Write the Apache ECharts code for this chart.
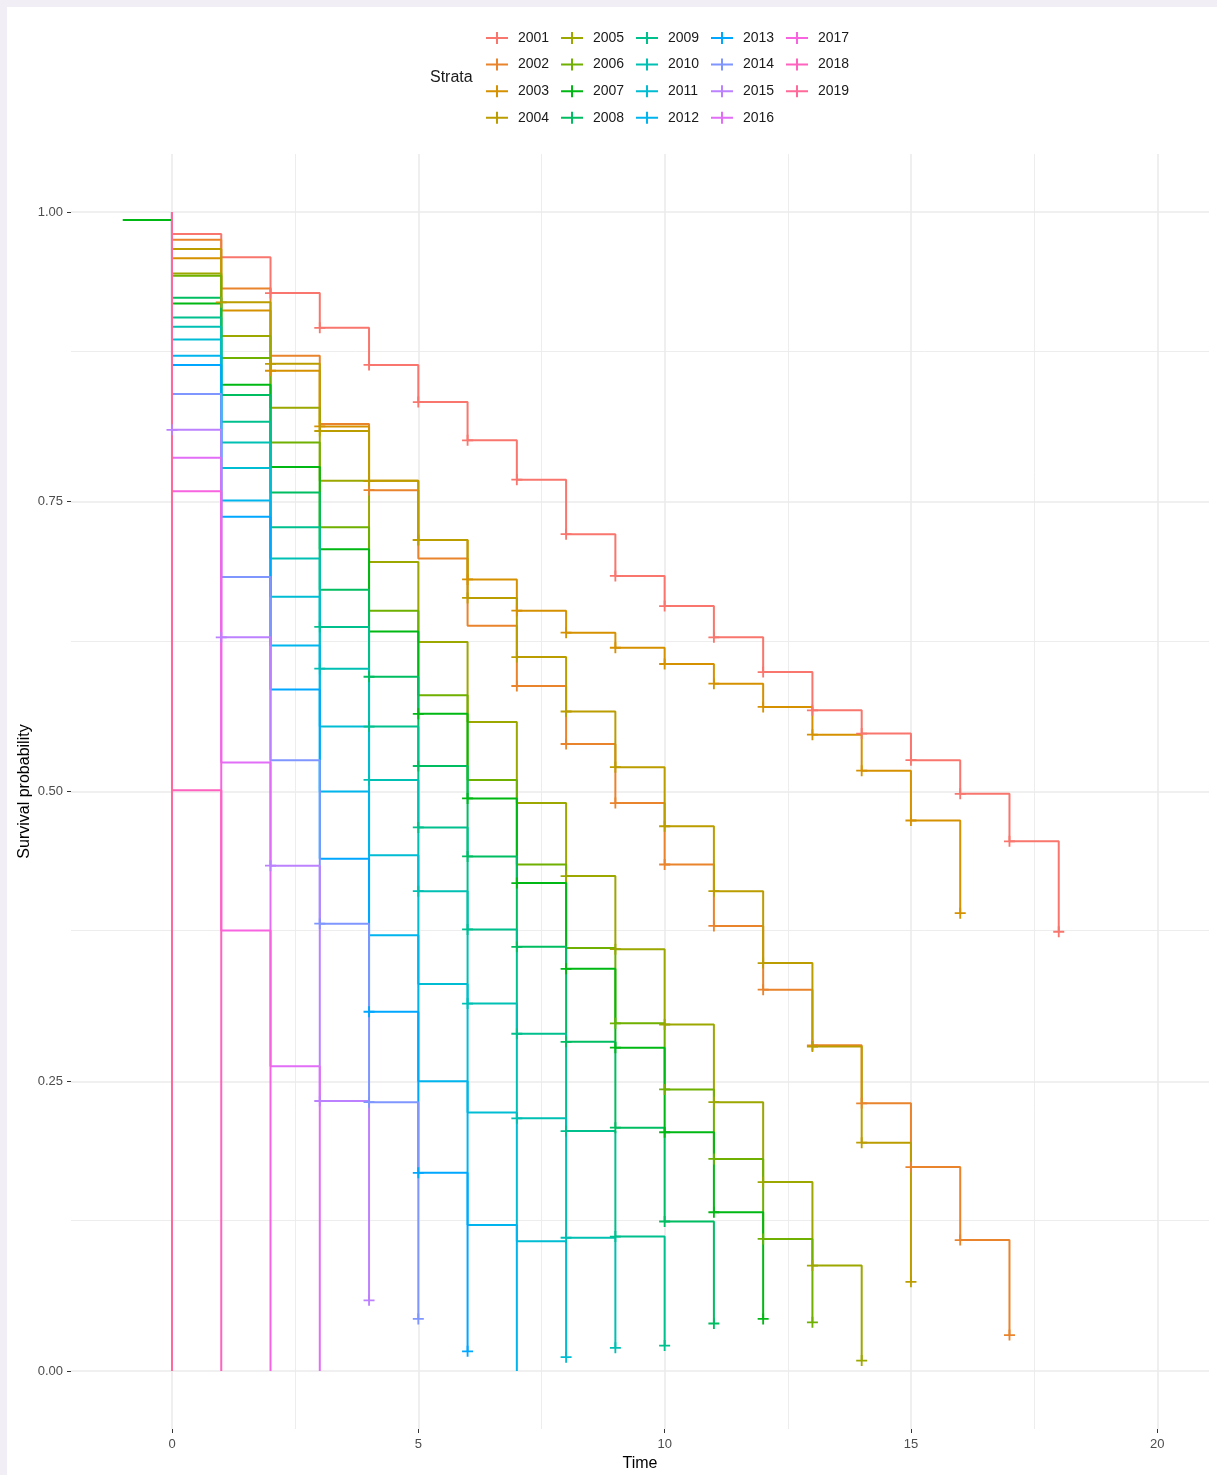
<!DOCTYPE html>
<html>
<head>
<meta charset="utf-8">
<script src="https://cdn.jsdelivr.net/npm/echarts@6/dist/echarts.min.js"></script>
<style>
html,body{margin:0;padding:0;background:#f1eef6;width:1217px;height:1475px;overflow:hidden;}
#panelbg{position:absolute;left:7px;top:7px;width:1210px;height:1468px;background:#ffffff;}
#chart{position:absolute;left:0;top:0;width:1217px;height:1475px;}
</style>
</head>
<body>
<div id="panelbg"></div>
<div id="chart"></div>
<script>
// ---------------- DATA ----------------
const strata = ['2001','2002','2003','2004','2005','2006','2007','2008','2009','2010',
                '2011','2012','2013','2014','2015','2016','2017','2018','2019'];
// time points (years of follow-up); survival arrays are aligned to these
const timePoints = [-1,0,1,2,3,4,5,6,7,8,9,10,11,12,13,14,15,16,17,18];

const s2001 = [null,0.981,0.961,0.930,0.900,0.868,0.836,0.803,0.769,0.722,0.686,0.660,0.633,0.603,0.570,0.550,0.527,0.498,0.457,0.379];
const s2002 = [null,0.976,0.934,0.876,0.817,0.760,0.701,0.643,0.591,0.541,0.490,0.437,0.384,0.329,0.281,0.231,0.176,0.113,0.031];
const s2003 = [null,0.960,0.915,0.863,0.815,0.768,0.717,0.683,0.656,0.637,0.624,0.610,0.593,0.573,0.549,0.518,0.475,0.395];
const s2004 = [null,0.968,0.922,0.869,0.811,0.768,0.717,0.667,0.616,0.569,0.521,0.470,0.414,0.352,0.280,0.197,0.077];
const s2005 = [null,0.947,0.893,0.831,0.768,0.698,0.629,0.560,0.490,0.427,0.364,0.299,0.232,0.163,0.091,0.009];
const s2006 = [null,0.945,0.874,0.801,0.728,0.656,0.583,0.510,0.437,0.365,0.300,0.243,0.183,0.114,0.042];
const s2007 = [0.993,0.921,0.851,0.780,0.709,0.638,0.567,0.494,0.421,0.347,0.279,0.206,0.137,0.045];
const s2008 = [null,0.926,0.842,0.758,0.674,0.599,0.522,0.444,0.366,0.284,0.210,0.129,0.041];
const s2009 = [null,0.909,0.819,0.728,0.642,0.556,0.469,0.381,0.291,0.207,0.116,0.022];
const s2010 = [null,0.901,0.801,0.701,0.606,0.510,0.414,0.317,0.218,0.115,0.020];
const s2011 = [null,0.890,0.779,0.668,0.556,0.445,0.334,0.223,0.112,0.012];
const s2012 = [null,0.876,0.751,0.626,0.500,0.376,0.250,0.126,0.000];
const s2013 = [null,0.868,0.737,0.588,0.442,0.310,0.171,0.017];
const s2014 = [null,0.843,0.685,0.527,0.386,0.232,0.045];
const s2015 = [null,0.812,0.633,0.436,0.233,0.061];
const s2016 = [null,0.788,0.525,0.263,0.000];
const s2017 = [null,0.759,0.380,0.000];
const s2018 = [null,0.501,0.000];
const s2019 = [null,0.000];

// censoring marks (+) : times at which a mark is drawn
const c2001 = [2,3,4,5,6,7,8,9,10,11,12,13,14,15,16,17,18];
const c2002 = [4,7,8,9,10,11,12,13,14,15,16,17];
const c2003 = [2,3,4,5,6,7,8,9,10,11,12,13,14,15,16];
const c2004 = [1,2,3,4,5,6,7,8,9,10,11,12,13,14,15];
const c2005 = [8,9,10,11,12,13,14];
const c2006 = [9,10,11,12,13];
const c2007 = [5,6,7,8,9,10,11,12];
const c2008 = [4,5,6,7,8,9,10,11];
const c2009 = [3,4,5,6,7,8,9,10];
const c2010 = [3,4,5,6,7,8,9];
const c2011 = [8];
const c2012 = [];
const c2013 = [4,5,6];
const c2014 = [3,4,5];
const c2015 = [0,1,2,3,4];
const c2016 = [];
const c2017 = [];
const c2018 = [];
const c2019 = [];

const xTicks = [0,5,10,15,20];
const xMinorGrid = [2.5,7.5,12.5,17.5];
const yTicks = [0,0.25,0.5,0.75,1];
const yMinorGrid = [0.125,0.375,0.625,0.875];

const survList = [s2001,s2002,s2003,s2004,s2005,s2006,s2007,s2008,s2009,s2010,s2011,s2012,s2013,s2014,s2015,s2016,s2017,s2018,s2019];
const censList = [c2001,c2002,c2003,c2004,c2005,c2006,c2007,c2008,c2009,c2010,c2011,c2012,c2013,c2014,c2015,c2016,c2017,c2018,c2019];

// ---------------- COLOURS (ggplot2 hue palette) ----------------
function hcl(h, c, l) {
  const hr = h * Math.PI / 180;
  const U = c * Math.cos(hr), V = c * Math.sin(hr);
  const Y = l > 7.999592 ? 100 * Math.pow((l + 16) / 116, 3) : 100 * l / 903.3;
  const XN = 95.047, YN = 100, ZN = 108.883;
  const t = XN + YN + ZN, x = XN / t, y = YN / t;
  const uN = 2 * x / (6 * y - x + 1.5), vN = 4.5 * y / (6 * y - x + 1.5);
  const u = U / (13 * l) + uN, v = V / (13 * l) + vN;
  const X = 9 * Y * u / (4 * v);
  const Z = -X / 3 - 5 * Y + 3 * Y / v;
  const lin = [
    (3.240479 * X - 1.537150 * Y - 0.498535 * Z) / YN,
    (-0.969256 * X + 1.875992 * Y + 0.041556 * Z) / YN,
    (0.055648 * X - 0.204043 * Y + 1.057311 * Z) / YN
  ];
  return '#' + lin.map(q => {
    let g = q <= 0.0031308 ? 12.92 * q : 1.055 * Math.pow(q, 1 / 2.4) - 0.055;
    g = Math.max(0, Math.min(1, g));
    return Math.round(g * 255).toString(16).padStart(2, '0');
  }).join('');
}
const nS = strata.length;
const colors = strata.map((_, i) => {
  const h = 15 + i * ((375 - 360 / nS) - 15) / (nS - 1);
  return hcl(h % 360, 100, 65);
});

// ---------------- CHART ----------------
const plusPath = 'path://M5,0L7,0L7,12L5,12ZM0,5L12,5L12,7L0,7Z';
const legendPath = 'path://M0,5L22,5L22,7L0,7ZM10,0L12,0L12,12L10,12Z';
const font = 'Liberation Sans, Arial, sans-serif';

const gridColor = '#ebebeb';
const markData = [];
xTicks.forEach(v => markData.push({xAxis: v, lineStyle: {color: gridColor, width: 1.6, type: 'solid'}}));
xMinorGrid.forEach(v => markData.push({xAxis: v, lineStyle: {color: gridColor, width: 0.9, type: 'solid'}}));
yTicks.forEach(v => markData.push({yAxis: v, lineStyle: {color: gridColor, width: 1.6, type: 'solid'}}));
yMinorGrid.forEach(v => markData.push({yAxis: v, lineStyle: {color: gridColor, width: 0.9, type: 'solid'}}));

const series = [{
  type: 'line', name: '__grid', data: [], silent: true, z: 0, animation: false,
  markLine: {silent: true, z: 0, symbol: ['none', 'none'], label: {show: false}, animation: false, data: markData}
}];

strata.forEach((name, i) => {
  const vals = survList[i];
  const cens = censList[i];
  const data = [];
  let first = true;
  vals.forEach((v, k) => {
    if (v === null || v === undefined) return;
    const t = timePoints[k];
    if (first && t >= 0) data.push({value: [t, 1], symbol: 'none'});
    first = false;
    data.push({value: [t, v], symbol: cens.indexOf(t) >= 0 ? plusPath : 'none'});
  });
  series.push({
    type: 'line', name: name, step: 'end', data: data,
    color: colors[i],
    itemStyle: {color: colors[i]},
    lineStyle: {width: 2, color: colors[i]},
    symbol: plusPath, symbolSize: 11, showSymbol: true, showAllSymbol: true,
    animation: false, z: 3, emphasis: {disabled: true}
  });
});

const legendCols = [
  ['2001','2002','2003','2004'],
  ['2005','2006','2007','2008'],
  ['2009','2010','2011','2012'],
  ['2013','2014','2015','2016'],
  ['2017','2018','2019']
];
const legendLefts = [486, 561, 636, 711, 786];

const option = {
  backgroundColor: 'transparent',
  animation: false,
  textStyle: {fontFamily: font},
  grid: {left: 71, right: 8, top: 154, bottom: 46, containLabel: false, outerBoundsMode: 'none'},
  legend: legendCols.map((d, i) => ({
    data: d, orient: 'vertical', left: legendLefts[i], top: 31,
    itemWidth: 22, itemHeight: 12, itemGap: 12.6, padding: 0,
    icon: legendPath, selectedMode: false,
    textStyle: {fontSize: 14, color: '#1a1a1a', fontFamily: font, padding: [0, 0, 0, 5]}
  })),
  graphic: [{
    type: 'text', left: 430, top: 70,
    style: {text: 'Strata', fontSize: 16, fill: '#1a1a1a', fontFamily: font}
  }],
  xAxis: {
    type: 'value', min: -2.05, max: 21.05,
    axisLine: {show: false, onZero: false},
    axisTick: {show: true, length: 4, lineStyle: {color: '#333333', width: 1}, customValues: xTicks},
    axisLabel: {customValues: xTicks, margin: 9, fontSize: 13, color: '#4d4d4d', fontFamily: font},
    splitLine: {show: false}, minorSplitLine: {show: false},
    name: 'Time', nameLocation: 'middle', nameGap: 27,
    nameTextStyle: {fontSize: 16, color: '#000000', fontFamily: font}
  },
  yAxis: {
    type: 'value', min: -0.05, max: 1.05,
    axisLine: {show: false, onZero: false},
    axisTick: {show: true, length: 4, lineStyle: {color: '#333333', width: 1}, customValues: yTicks},
    axisLabel: {customValues: yTicks, margin: 8, fontSize: 13, color: '#4d4d4d', fontFamily: font,
                formatter: v => v.toFixed(2)},
    splitLine: {show: false}, minorSplitLine: {show: false},
    name: 'Survival probability', nameLocation: 'middle', nameGap: 38, nameRotate: 90,
    nameMoveOverlap: false,
    nameTextStyle: {fontSize: 16, color: '#000000', fontFamily: font}
  },
  series: series
};

const chart = echarts.init(document.getElementById('chart'), null, {renderer: 'canvas', width: 1217, height: 1475});
chart.setOption(option);
</script>
</body>
</html>
